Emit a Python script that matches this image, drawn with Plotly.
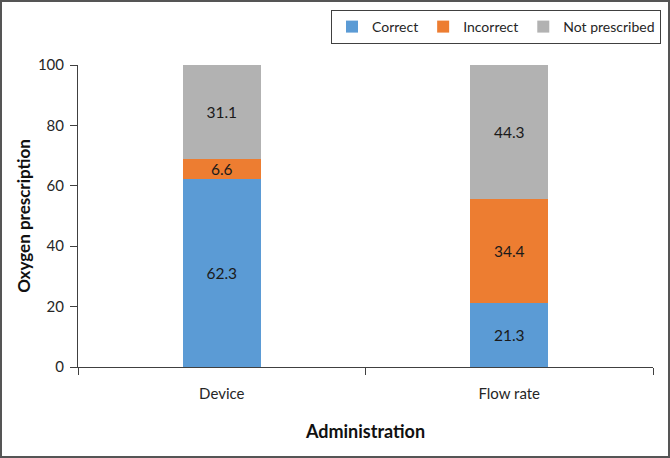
import plotly.graph_objects as go

categories = ["Device", "Flow rate"]
correct = [62.3, 21.3]
incorrect = [6.6, 34.4]
not_prescribed = [31.1, 44.3]
series_names = ["Correct", "Incorrect", "Not prescribed"]
colors = ["#5B9BD5", "#ED7D31", "#B2B2B2"]
y_ticks = [0, 20, 40, 60, 80, 100]

FONT = "Lato, 'Open Sans', sans-serif"
fig = go.Figure()
for name, vals, col in zip(series_names, [correct, incorrect, not_prescribed], colors):
    fig.add_trace(go.Bar(
        x=categories, y=vals, name=name, marker=dict(color=col, line=dict(width=0)),
        text=[f"{v:.1f}" for v in vals], textposition="inside", insidetextanchor="middle",
        textfont=dict(family=FONT, size=15.5, color="#1a1a1a"), textangle=0,
        constraintext="none", width=0.27,
    ))

L, R, T, B = 78, 17, 65, 91
W, H = 670, 458
pw, ph = W - L - R, H - T - B

def px_x(p):
    return (p - L) / pw

def px_y(p):
    return (H - B - p) / ph

fig.update_layout(
    barmode="stack",
    width=W, height=H,
    margin=dict(l=L, r=R, t=T, b=B, autoexpand=False),
    paper_bgcolor="white", plot_bgcolor="white",
    font=dict(family=FONT, size=14, color="#262626"),
    showlegend=True,
    legend=dict(
        orientation="h", x=px_x(661), xanchor="right", y=px_y(10), yanchor="top",
        bordercolor="#404040", borderwidth=1, font=dict(size=14, color="#262626"),
        traceorder="normal",
    ),
    xaxis=dict(
        type="category", tickson="boundaries", ticks="outside", ticklen=7,
        tickcolor="#404040", showline=True, linecolor="#404040", linewidth=1.3,
        showgrid=False, tickfont=dict(size=15, color="#262626"), ticklabelstandoff=13,
        title=dict(text="<b>Administration</b>", font=dict(size=18, color="#111"), standoff=24),
    ),
    yaxis=dict(
        range=[0, 100], tickvals=y_ticks, ticks="outside", ticklen=7,
        tickcolor="#404040", showline=True, linecolor="#404040", linewidth=1,
        showgrid=False, zeroline=False, tickfont=dict(size=15, color="#262626"),
        ticklabelstandoff=3,
        title=dict(text="<b>Oxygen prescription</b>", font=dict(size=17, color="#111"), standoff=2),
    ),
    shapes=[dict(
        type="rect", xref="paper", yref="paper",
        x0=px_x(1), x1=px_x(669), y0=px_y(457), y1=px_y(1),
        line=dict(color="#555555", width=2), fillcolor="rgba(0,0,0,0)", layer="below",
    )],
)

fig.write_html("out.html", config={"displayModeBar": False},
               post_script="document.body.style.margin='0';document.body.style.padding='0';")
